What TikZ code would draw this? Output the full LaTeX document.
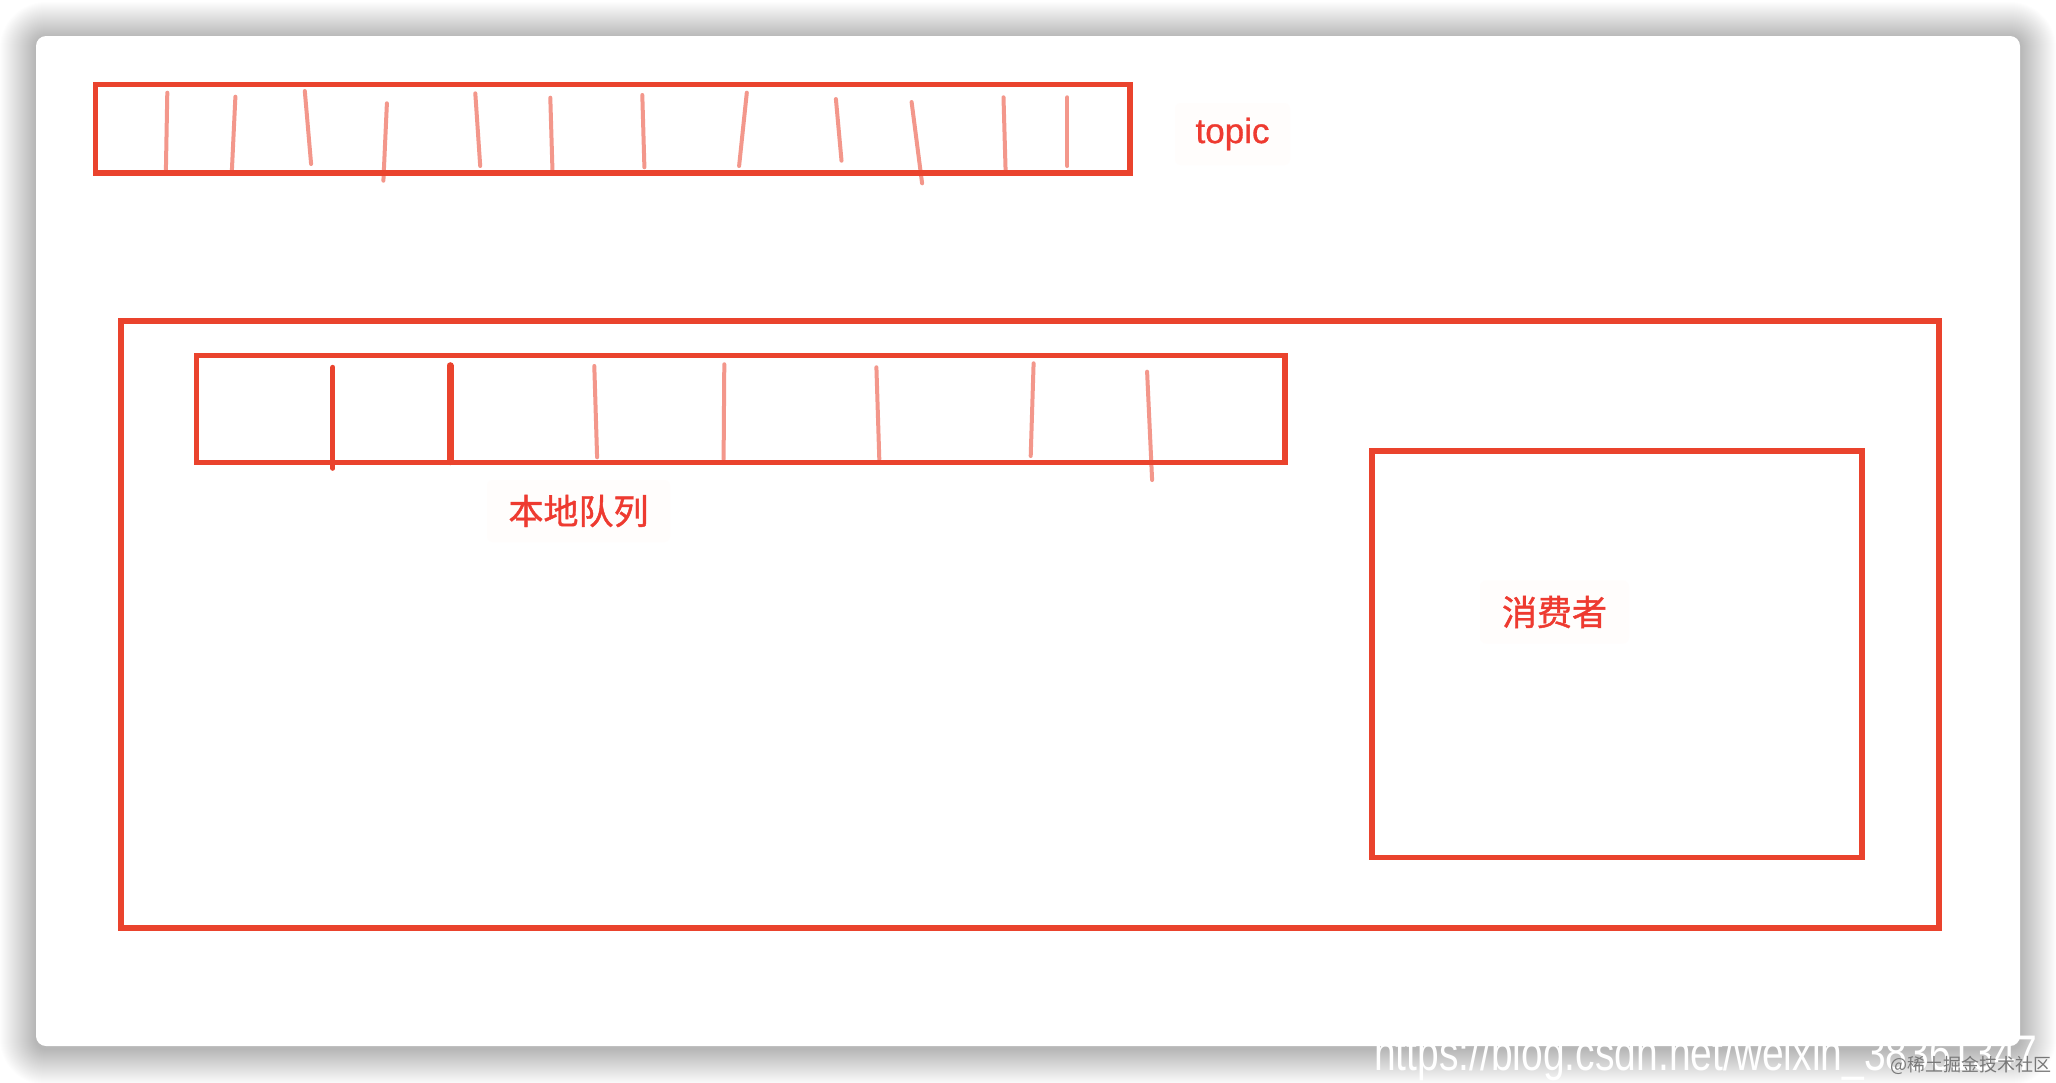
\documentclass[tikz,border=0pt]{standalone}
\usepackage{fontspec}
\setmainfont{Liberation Sans}
\newfontfamily\cjk{Noto Sans CJK SC}[FakeBold=1.2]
\newfontfamily\cjkplain{Noto Sans CJK SC}
\newfontfamily\topicfont{Liberation Sans}[FakeBold=0.9]
\definecolor{boxred}{RGB}{234,67,45}
\definecolor{txtred}{RGB}{238,58,48}
\definecolor{labelbg}{RGB}{255,253,252}
\definecolor{wmgray}{RGB}{120,120,120}
\begin{document}
\begin{tikzpicture}[x=1pt,y=-1pt,
  boxline/.style={draw=boxred, line width=5.5pt, inner sep=0pt, outer sep=0pt},
  lighttick/.style={draw=boxred, line width=4pt, opacity=0.55, line cap=round},
  darktick/.style={draw=boxred, line cap=round},
  lbl/.style={text=txtred, fill=labelbg, rounded corners=6pt, inner sep=0pt}]
\useasboundingbox (0,0) rectangle (2056,1082);
\fill[white] (0,0) rectangle (2056,1082);
% shadow of the card
\foreach \i in {1,...,36}{
  \fill[black, opacity=0.0065, rounded corners=10+\i]
    (36-\i, 38-\i) rectangle (2020+\i, 1049+\i);
}
% card
\fill[white, rounded corners=10] (36,36) rectangle (2020,1046);

% topic box
\node[boxline, minimum width=1034.4pt, minimum height=88.7pt] (topic) at (612.8,128.7) {};
\foreach \xa/\ya/\xb/\yb in {167.3/92.7/165.9/170, 235.4/96.7/231.9/170,
  304.8/91/311.1/164, 386.9/103.3/383.4/180.7, 475.3/93.3/480.2/166,
  550.3/97.7/552.5/171.7, 642.3/95/644.4/167.3, 746.8/92.7/739.1/166,
  835.9/99/841.5/160.7, 911.6/102/922.1/183.3, 1003.5/97.3/1005.6/171,
  1067.4/97.3/1067.4/166}{
  \draw[lighttick] (\xa,\ya) -- (\xb,\yb);
}
\node[lbl, minimum width=115pt, minimum height=62pt, font=\topicfont\fontsize{35}{40}\selectfont] (topiclabel) at (1232.5,134) {topic};

% outer box
\node[boxline, minimum width=1817.6pt, minimum height=606.6pt] (outer) at (1030,624.5) {};

% local queue
\node[boxline, minimum width=1088.5pt, minimum height=106.8pt] (local) at (740.75,408.9) {};
\draw[darktick, line width=5pt] (332.9,367.3) -- (332.9,468.3);
\draw[darktick, line width=7pt] (450,365.7) -- (450,461.7);
\foreach \xa/\ya/\xb/\yb in {594.3/366/597.1/457.3, 724.3/364.3/723.6/459.3,
  876.4/367.3/879.3/459.3, 1033.6/363.3/1030.7/456, 1147.1/371.7/1152.1/480}{
  \draw[lighttick] (\xa,\ya) -- (\xb,\yb);
}
\node[lbl, minimum width=183pt, minimum height=62pt, font=\cjk\fontsize{35}{40}\selectfont] (locallabel) at (578.5,511) {本地队列};

% consumer
\node[boxline, minimum width=490.2pt, minimum height=406.3pt] (consumer) at (1616.9,654.15) {};
\node[lbl, minimum width=149pt, minimum height=63pt, font=\cjk\fontsize{35}{40}\selectfont] (consumerlabel) at (1554.5,612) {消费者};

% watermarks
\node[anchor=base west, inner sep=0pt, text=white, xscale=0.78, font=\fontsize{50}{55}\selectfont] (url) at (1374,1070) {https://blog.csdn.net/weixin\_38361347};
\node[anchor=base west, inner sep=0pt, text=wmgray, font=\cjkplain\fontsize{18}{20}\selectfont] (juejin) at (1890,1071) {@稀土掘金技术社区};
\end{tikzpicture}
\end{document}
